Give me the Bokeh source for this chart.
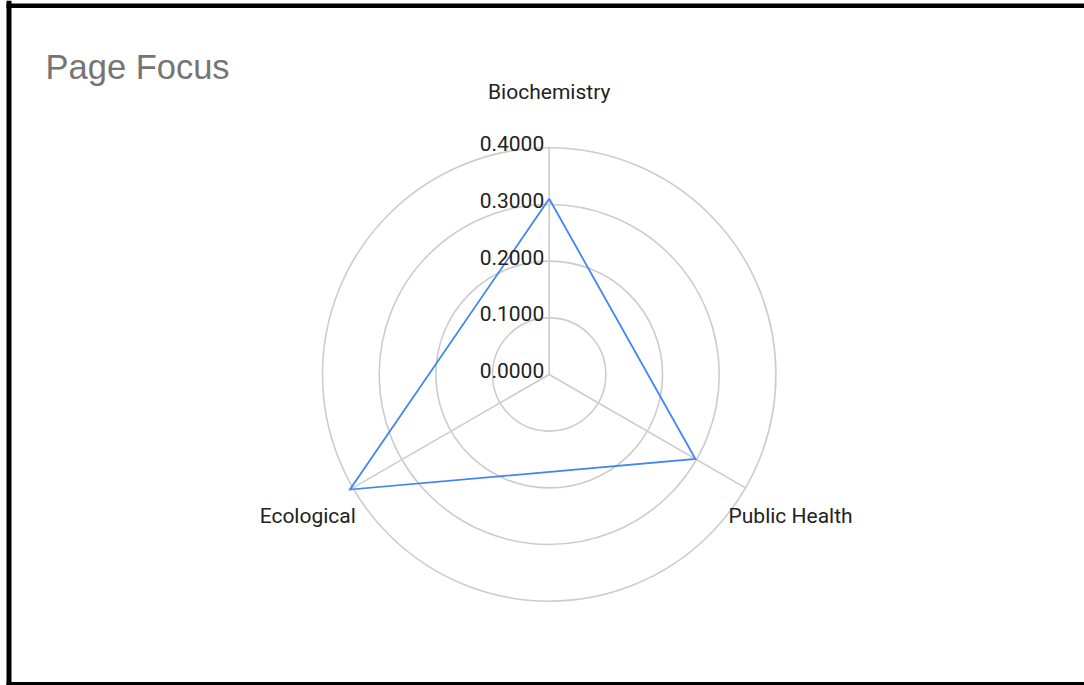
import numpy as np
from bokeh.plotting import figure
from bokeh.models import BoxAnnotation, ColumnDataSource
from bokeh.core.properties import value
from bokeh.embed import file_html
from bokeh.resources import INLINE

# Radar chart data
categories = ["Biochemistry", "Public Health", "Ecological"]
scores = [0.310, 0.298, 0.406]
angles_deg = [90, -30, 210]
ring_ticks = [0.1, 0.2, 0.3, 0.4]
tick_values = [0.0, 0.1, 0.2, 0.3, 0.4]
tick_labels = ["0.0000", "0.1000", "0.2000", "0.3000", "0.4000"]
title_text = "Page Focus"

W, H = 1084, 685
SCALE = 566.75           # pixels per data unit
CX, CY = 548.7, 374.0    # centre of the radar on the canvas

x0 = -CX / SCALE
x1 = (W - CX) / SCALE
y1 = CY / SCALE
y0 = -(H - CY) / SCALE

def px_x(px):
    return (px - CX) / SCALE

def px_y(py):
    return (CY - py) / SCALE

p = figure(width=W, height=H, x_range=(x0, x1), y_range=(y0, y1),
           output_backend="svg", toolbar_location=None,
           min_border=0, min_border_left=0, min_border_right=0,
           min_border_top=0, min_border_bottom=0)
p.axis.visible = False
p.grid.visible = False
p.outline_line_color = None
p.background_fill_color = "white"
p.border_fill_color = "white"

grid_color = "#cccccc"
rmax = max(ring_ticks)
theta = np.radians(angles_deg)

# concentric rings
p.circle(x=[0] * len(ring_ticks), y=[0] * len(ring_ticks), radius=ring_ticks,
         fill_color=None, line_color=grid_color, line_width=1.6)

# spokes
p.multi_line(xs=[[0, rmax * np.cos(t)] for t in theta],
             ys=[[0, rmax * np.sin(t)] for t in theta],
             line_color=grid_color, line_width=1.6)

# data polygon
vx = [s * np.cos(t) for s, t in zip(scores, theta)]
vy = [s * np.sin(t) for s, t in zip(scores, theta)]
p.line(x=vx + vx[:1], y=vy + vy[:1], line_color="#4285f4", line_width=1.8,
       line_join="miter")

# tick labels up the vertical spoke
p.text(x=[0] * len(tick_values), y=tick_values, text=tick_labels,
       text_font=value("Roboto"), text_font_size="21px", text_color="#222222",
       text_align="right", text_baseline="alphabetic",
       x_offset=-5, y_offset=-4)

# category labels at the spoke ends
lab_src = ColumnDataSource(dict(
    x=[rmax * np.cos(t) for t in theta],
    y=[rmax * np.sin(t) for t in theta],
    text=categories,
    align=["center", "left", "right"],
    xo=[0, -17, 3],
    yo=[-56, 28, 28],
))
p.text(x="x", y="y", text="text", source=lab_src,
       text_font=value("Roboto"), text_font_size="21px", text_color="#222222",
       text_align="align", text_baseline="middle",
       x_offset="xo", y_offset="yo")

# chart title
p.text(x=[px_x(45)], y=[px_y(66)], text=[title_text],
       text_font=value("Liberation Sans"), text_font_size="34.5px",
       text_color="#757575", text_align="left", text_baseline="alphabetic")

# frame edges
p.add_layout(BoxAnnotation(left=px_x(6), right=px_x(11), fill_color="black",
                           fill_alpha=1, line_color=None))
p.add_layout(BoxAnnotation(left=px_x(6), top=px_y(3), bottom=px_y(7.5),
                           fill_color="black", fill_alpha=1, line_color=None))
p.add_layout(BoxAnnotation(left=px_x(6), top=px_y(681.5), fill_color="black",
                           fill_alpha=1, line_color=None))

open("out.html", "w").write(file_html(p, INLINE))
